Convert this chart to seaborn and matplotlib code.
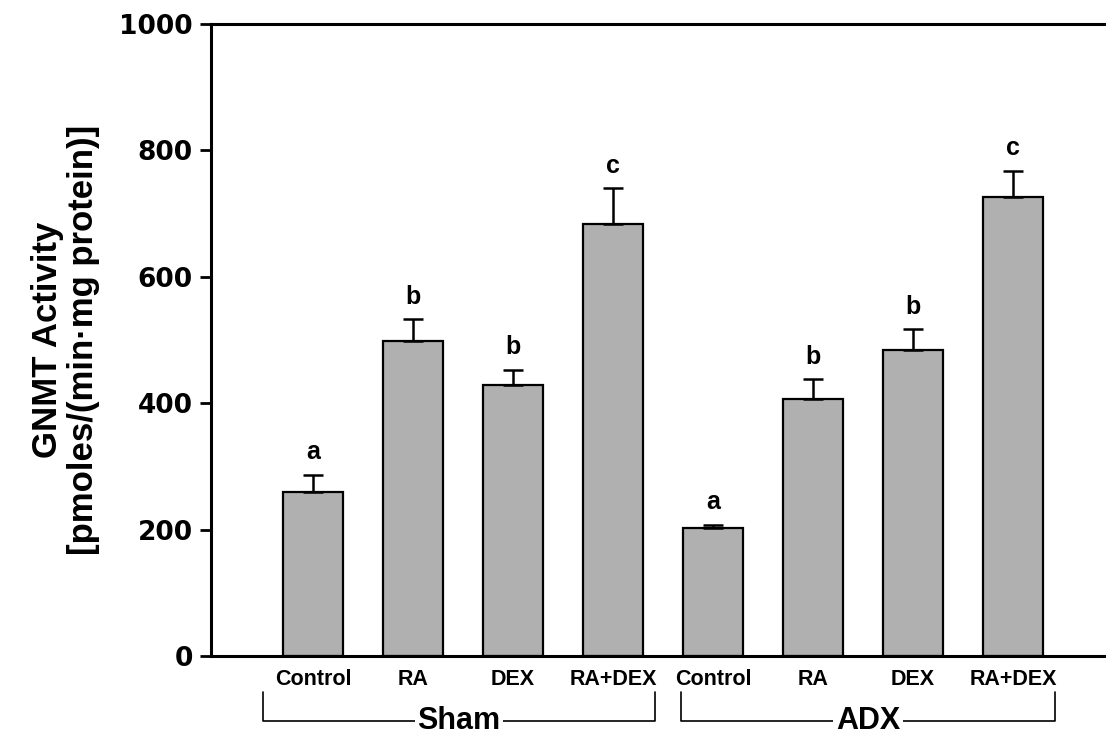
import pandas as pd
import matplotlib
matplotlib.use("Agg")
import matplotlib.pyplot as plt
import matplotlib.transforms as mtransforms
import seaborn as sns

# --- data ---
groups = ['Sham', 'Sham', 'Sham', 'Sham', 'ADX', 'ADX', 'ADX', 'ADX']
treatments = ['Control', 'RA', 'DEX', 'RA+DEX', 'Control', 'RA', 'DEX', 'RA+DEX']
activity = [260, 498, 429, 684, 202, 407, 484, 726]
sem = [27, 35, 24, 56, 6, 31, 33, 42]
letters = ['a', 'b', 'b', 'c', 'a', 'b', 'b', 'c']
group_names = ['Sham', 'ADX']

df = pd.DataFrame({'group': groups, 'treatment': treatments,
                   'activity': activity, 'sem': sem})
df['key'] = df['group'] + ' ' + df['treatment']

# --- plotting ---
sns.set_style('ticks')
plt.rcParams['font.family'] = ['Liberation Sans', 'DejaVu Sans']
plt.rcParams.update({'axes.linewidth': 2.2, 'axes.edgecolor': 'black',
                     'text.color': 'black', 'axes.labelcolor': 'black',
                     'xtick.color': 'black', 'ytick.color': 'black'})

fig = plt.figure(figsize=(11.06, 7.42), dpi=100)
ax = fig.add_axes([0.1908, 0.1159, 0.8092, 0.8518])

sns.barplot(data=df, x='key', y='activity', order=list(df['key']),
            color='#b0b0b0', saturation=1, width=0.6, errorbar=None,
            edgecolor='black', linewidth=1.6, ax=ax)

# upward-only error bars and significance letters
centers = [p.get_x() + p.get_width() / 2 for p in ax.patches]
ax.errorbar(centers, df['activity'], yerr=[[0] * len(df), df['sem']],
            fmt='none', ecolor='black', elinewidth=1.8, capsize=7,
            capthick=1.8, zorder=3)
for x, y, e, lab in zip(centers, df['activity'], df['sem'], letters):
    ax.annotate(lab, (x, y + e), xytext=(0, 11), textcoords='offset points',
                ha='center', va='baseline', fontsize=18, fontweight='bold')

ax.set_ylim(0, 1000)
ax.set_xlim(-1.02, 7.93)
ax.set_yticks(range(0, 1001, 200))
ax.set_yticklabels([str(v) for v in range(0, 1001, 200)],
                   family=['DejaVu Sans'], fontweight='bold', fontsize=19)
ax.set_xticks(range(len(treatments)))
ax.set_xticklabels(treatments, fontweight='bold', fontsize=15.5)
ax.tick_params(axis='y', length=8, width=2, pad=5)
ax.tick_params(axis='x', length=0, pad=9)
ax.set_xlabel('')
ax.set_ylabel('GNMT Activity\n[pmoles/(min\u00b7mg protein)]',
              fontsize=25, fontweight='bold', labelpad=14, linespacing=1.1)

sns.despine(ax=ax, top=False, right=True)

# group brackets under the tick labels
trans = mtransforms.blended_transform_factory(ax.transData, ax.transAxes)
brackets = [(-0.5, 3.42), (3.68, 7.42)]
for (x0, x1), name in zip(brackets, group_names):
    ax.plot([x0, x0, x1, x1], [-0.057, -0.103, -0.103, -0.057],
            color='black', lw=1.2, transform=trans, clip_on=False)
    ax.text((x0 + x1) / 2, -0.103, name, transform=trans, ha='center',
            va='center', fontsize=22, fontweight='bold',
            bbox=dict(facecolor='white', edgecolor='none', pad=2))

fig.savefig('out.png', dpi=100)
